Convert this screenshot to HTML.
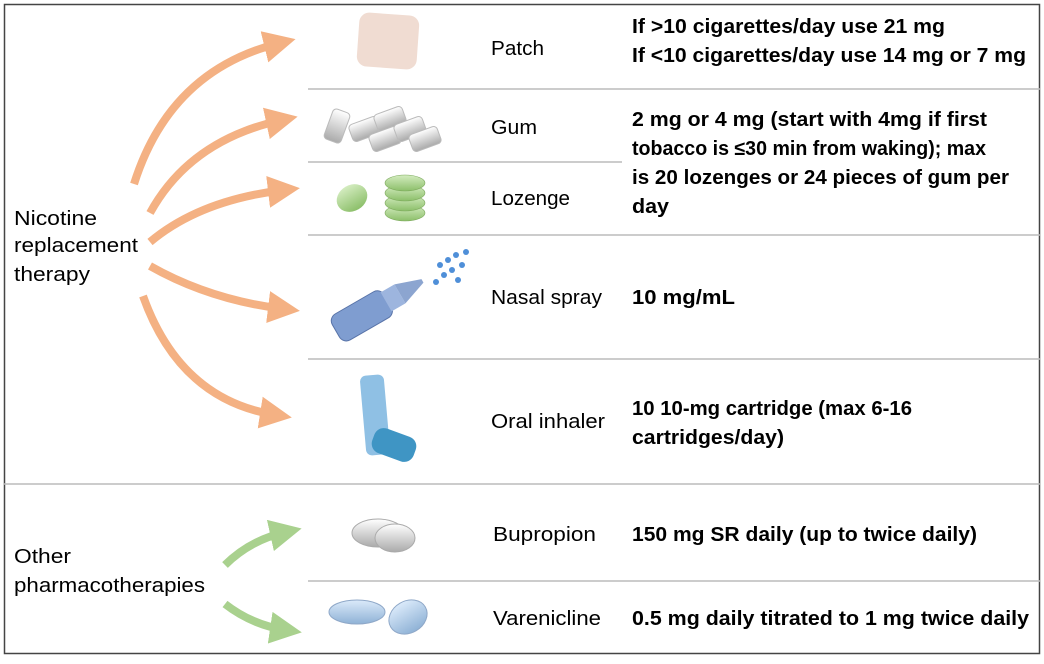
<!DOCTYPE html>
<html><head><meta charset="utf-8"><style>
html,body{margin:0;padding:0;background:#fff}
svg{display:block}
text{font-family:"Liberation Sans",sans-serif;fill:#000}
.l{font-size:20px}
.b{font-size:20px;font-weight:bold}
</style></head><body>
<svg width="1044" height="664" viewBox="0 0 1044 664">
<defs>
<marker id="ao" markerWidth="4" markerHeight="4" refX="2" refY="2" orient="auto" markerUnits="strokeWidth"><path d="M0,0 L4,2 L0,4 Z" fill="#f4b183"/></marker>
<marker id="ag" markerWidth="4" markerHeight="4" refX="2" refY="2" orient="auto" markerUnits="strokeWidth"><path d="M0,0 L4,2 L0,4 Z" fill="#a9d18e"/></marker>
<linearGradient id="gl" x1="0" y1="0" x2="0" y2="1"><stop offset="0" stop-color="#fff"/><stop offset="1" stop-color="#aaa"/></linearGradient>
<linearGradient id="gg" x1="0" y1="0" x2="0" y2="1"><stop offset="0" stop-color="#d4ecc0"/><stop offset="1" stop-color="#8cbf6a"/></linearGradient>
<linearGradient id="gb" x1="0" y1="0" x2="0" y2="1"><stop offset="0" stop-color="#dbeafa"/><stop offset="1" stop-color="#8fb2d6"/></linearGradient>
</defs>
<rect x="4.5" y="4.5" width="1035" height="649" fill="none" stroke="#444" stroke-width="1.5"/>
<g stroke="#bbb" stroke-width="1.5">
<line x1="308" y1="89" x2="1040" y2="89"/>
<line x1="308" y1="162" x2="622" y2="162"/>
<line x1="308" y1="235" x2="1040" y2="235"/>
<line x1="308" y1="359" x2="1040" y2="359"/>
<line x1="4" y1="484" x2="1040" y2="484"/>
<line x1="308" y1="581" x2="1040" y2="581"/>
</g>
<g fill="none" stroke="#f4b183" stroke-width="8">
<path d="M134,184 Q170,70 280,43" marker-end="url(#ao)"/>
<path d="M150,213 Q190,140 282,120" marker-end="url(#ao)"/>
<path d="M150,242 Q200,200 284,190" marker-end="url(#ao)"/>
<path d="M150,266 Q210,300 284,309" marker-end="url(#ao)"/>
<path d="M143,296 Q180,400 276,415" marker-end="url(#ao)"/>
</g>
<g fill="none" stroke="#a9d18e" stroke-width="8">
<path d="M225,565 Q250,540 286,532" marker-end="url(#ag)"/>
<path d="M225,604 Q252,625 286,630" marker-end="url(#ag)"/>
</g>
<text class="l" x="14" y="225" textLength="83" lengthAdjust="spacingAndGlyphs">Nicotine</text>
<text class="l" x="14" y="252" textLength="124" lengthAdjust="spacingAndGlyphs">replacement</text>
<text class="l" x="14" y="281" textLength="76" lengthAdjust="spacingAndGlyphs">therapy</text>
<text class="l" x="14" y="563" textLength="57" lengthAdjust="spacingAndGlyphs">Other</text>
<text class="l" x="14" y="592" textLength="191" lengthAdjust="spacingAndGlyphs">pharmacotherapies</text>
<!-- icons -->
<rect x="358" y="14" width="60" height="54" rx="10" fill="#f0dcd2" transform="rotate(4 388 41)"/>
<g fill="url(#gl)" stroke="#bbb">
<rect x="328" y="110" width="18" height="32" rx="4" transform="rotate(20 337 126)"/>
<rect x="350" y="120" width="30" height="18" rx="4" transform="rotate(-20 365 129)"/>
<rect x="375" y="110" width="30" height="18" rx="4" transform="rotate(-20 390 119)"/>
<rect x="370" y="130" width="30" height="18" rx="4" transform="rotate(-20 385 139)"/>
<rect x="395" y="120" width="30" height="18" rx="4" transform="rotate(-20 410 129)"/>
<rect x="410" y="130" width="30" height="18" rx="4" transform="rotate(-20 425 139)"/>
</g>
<ellipse cx="352" cy="198" rx="16" ry="13" fill="url(#gg)" transform="rotate(-30 352 198)"/>
<g fill="url(#gg)" stroke="#7aa85a" stroke-width="0.6">
<ellipse cx="405" cy="213" rx="20" ry="8"/><ellipse cx="405" cy="203" rx="20" ry="8"/><ellipse cx="405" cy="193" rx="20" ry="8"/><ellipse cx="405" cy="183" rx="20" ry="8"/></g>
<g transform="rotate(-30 370 310)">
<rect x="330" y="296" width="60" height="30" rx="8" fill="#7f9dd0" stroke="#5873a8"/>
<rect x="388" y="300" width="16" height="22" fill="#9db5de"/>
<path d="M404,300 L430,309 L430,313 L404,322 Z" fill="#8ca5d0"/>
</g>
<g fill="#4f8fd8"><circle cx="440" cy="265" r="3"/><circle cx="448" cy="260" r="3"/><circle cx="456" cy="255" r="3"/><circle cx="444" cy="275" r="3"/><circle cx="452" cy="270" r="3"/><circle cx="462" cy="265" r="3"/><circle cx="436" cy="282" r="3"/><circle cx="458" cy="280" r="3"/><circle cx="466" cy="252" r="3"/></g>
<rect x="363" y="375" width="24" height="80" rx="6" fill="#8fc0e4" transform="rotate(-5 375 415)"/>
<rect x="372" y="432" width="44" height="26" rx="10" fill="#3f95c4" transform="rotate(20 394 445)"/>
<ellipse cx="378" cy="533" rx="26" ry="14" fill="url(#gl)" stroke="#aaa"/>
<ellipse cx="395" cy="538" rx="20" ry="14" fill="url(#gl)" stroke="#aaa"/>
<ellipse cx="408" cy="617" rx="20" ry="16" fill="url(#gb)" stroke="#8fa8c8" transform="rotate(-30 408 617)"/>
<ellipse cx="357" cy="612" rx="28" ry="12" fill="url(#gb)" stroke="#8fa8c8"/>
<!-- labels -->
<text class="l" x="491" y="55" textLength="53" lengthAdjust="spacingAndGlyphs">Patch</text>
<text class="l" x="491" y="134" textLength="46" lengthAdjust="spacingAndGlyphs">Gum</text>
<text class="l" x="491" y="205" textLength="79" lengthAdjust="spacingAndGlyphs">Lozenge</text>
<text class="l" x="491" y="304" textLength="111" lengthAdjust="spacingAndGlyphs">Nasal spray</text>
<text class="l" x="491" y="428" textLength="114" lengthAdjust="spacingAndGlyphs">Oral inhaler</text>
<text class="l" x="493" y="541" textLength="103" lengthAdjust="spacingAndGlyphs">Bupropion</text>
<text class="l" x="493" y="625" textLength="108" lengthAdjust="spacingAndGlyphs">Varenicline</text>
<text class="b" x="632" y="33" textLength="313" lengthAdjust="spacingAndGlyphs">If &gt;10 cigarettes/day use 21 mg</text>
<text class="b" x="632" y="62" textLength="394" lengthAdjust="spacingAndGlyphs">If &lt;10 cigarettes/day use 14 mg or 7 mg</text>
<text class="b" x="632" y="126" textLength="355" lengthAdjust="spacingAndGlyphs">2 mg or 4 mg (start with 4mg if first</text>
<text class="b" x="632" y="155" textLength="354" lengthAdjust="spacingAndGlyphs">tobacco is ≤30 min from waking); max</text>
<text class="b" x="632" y="184" textLength="377" lengthAdjust="spacingAndGlyphs">is 20 lozenges or 24 pieces of gum per</text>
<text class="b" x="632" y="213" textLength="37" lengthAdjust="spacingAndGlyphs">day</text>
<text class="b" x="632" y="304" textLength="103" lengthAdjust="spacingAndGlyphs">10 mg/mL</text>
<text class="b" x="632" y="415" textLength="280" lengthAdjust="spacingAndGlyphs">10 10-mg cartridge (max 6-16</text>
<text class="b" x="632" y="444" textLength="152" lengthAdjust="spacingAndGlyphs">cartridges/day)</text>
<text class="b" x="632" y="541" textLength="345" lengthAdjust="spacingAndGlyphs">150 mg SR daily (up to twice daily)</text>
<text class="b" x="632" y="625" textLength="397" lengthAdjust="spacingAndGlyphs">0.5 mg daily titrated to 1 mg twice daily</text>
</svg>
</body></html>
